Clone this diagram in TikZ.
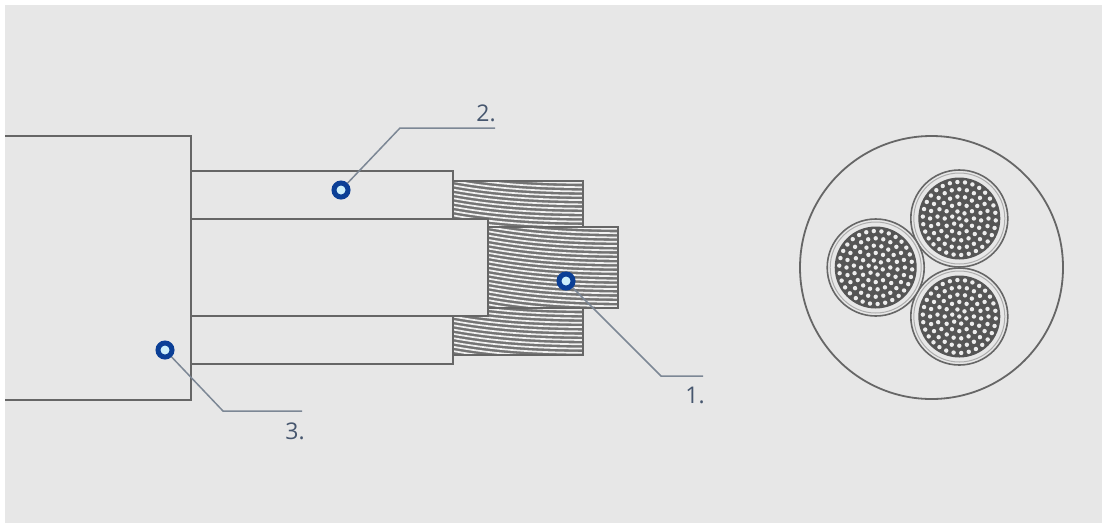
\documentclass[tikz,border=0pt]{standalone}
\usepackage{fontspec}
\setmainfont{Open Sans}
\usetikzlibrary{calc}
\definecolor{bg}{HTML}{E7E7E7}
\definecolor{ink}{HTML}{666666}
\definecolor{inkd}{HTML}{555555}
\definecolor{lead}{HTML}{7C8795}
\definecolor{lab}{HTML}{46566E}
\definecolor{mark}{HTML}{0B3F96}
\definecolor{markin}{HTML}{CDEEFA}
\definecolor{strandbg}{HTML}{747474}
\definecolor{wiredot}{HTML}{EDEDED}
\tikzset{
  body/.style={draw=ink,line width=2pt,fill=bg},
  leader/.style={draw=lead,line width=1.5pt},
  marker/.style={circle,draw=mark,line width=5pt,fill=markin,minimum size=14pt,inner sep=0pt},
  numlabel/.style={text=lab,font=\fontsize{23}{23}\selectfont,inner sep=0pt},
  strandbox/.style={draw=ink,line width=1.7pt},
}
% #1 x0, #2 y0, #3 x1, #4 y1
\newcommand{\strands}[4]{%
  \begin{scope}
    \clip (#1,#2) rectangle (#3,#4);
    \fill[strandbg] (#1,#2) rectangle (#3,#4);
    \pgfmathsetmacro{\wid}{#3-#1}
    \foreach \k in {-6,...,24}{
      \pgfmathsetmacro{\ya}{#2+4.3*\k}
      \draw[white,line width=1.7pt,opacity=.9]
        (#1,\ya) .. controls (#1+.3*\wid,\ya+7) and (#1+.6*\wid,\ya+10) .. (#3,\ya+10.5);
    }
  \end{scope}
  \draw[strandbox] (#1,#2) rectangle (#3,#4);
}
% #1 x, #2 y, #3 name
\newcommand{\corecirc}[3]{%
  \node[circle,draw=ink,line width=1.6pt,minimum size=97pt,inner sep=0pt,fill=bg] (#3) at (#1,#2) {};
  \draw[ink!45!bg,line width=1pt] (#1,#2) circle (45.5);
  \fill[inkd] (#1,#2) circle (41);
  \fill[wiredot] (#1,#2) circle (2.2);
  \foreach \r in {1,...,5}{
    \pgfmathtruncatemacro{\n}{6*\r}
    \foreach \i in {1,...,\n}{
      \fill[wiredot] ($(#1,#2)+({360*\i/\n+15*\r}:{7.3*\r})$) circle (2.2);
    }
  }
}
\begin{document}
\begin{tikzpicture}[x=1pt,y=-1pt]
\useasboundingbox (0,0) rectangle (1102,523);
\fill[white] (0,0) rectangle (1102,523);
\fill[bg] (5,5) rectangle (1102,523);

% strands
\strands{453}{181}{583}{227}
\strands{453}{308}{583}{355}
\strands{488}{227}{618}{308}

% insulated cores
\path[body] (191,171) rectangle (453,219);
\path[body] (191,316) rectangle (453,364);
\path[body] (191,219) rectangle (488,316);

% jacket
\path[fill=bg] (5,136) rectangle (191,400);
\draw[body,fill=none] (5,136) -- (191,136) -- (191,400) -- (5,400);

% leaders
\coordinate (b2) at (400,128);
\coordinate (e2) at (495,128);
\coordinate (b1) at (661,376);
\coordinate (e1) at (703,376);
\coordinate (b3) at (223,411);
\coordinate (e3) at (302,411);
\node[marker] (m2) at (341,190) {};
\node[marker] (m1) at (566,281) {};
\node[marker] (m3) at (165,350) {};
\draw[leader] (m2) -- (b2) -- (e2);
\draw[leader] (m1) -- (b1) -- (e1);
\draw[leader] (m3) -- (b3) -- (e3);
\node[numlabel] (l2) at (486,113) {2.};
\node[numlabel] (l1) at (695,395) {1.};
\node[numlabel] (l3) at (295,431) {3.};

% cross-section
\node[circle,draw=ink,line width=1.8pt,minimum size=263pt,inner sep=0pt] (outer) at (931.5,267.5) {};
\corecirc{959.3}{218.5}{ca}
\corecirc{959.3}{316.5}{cb}
\corecirc{875.7}{267.5}{cc}
\end{tikzpicture}
\end{document}
